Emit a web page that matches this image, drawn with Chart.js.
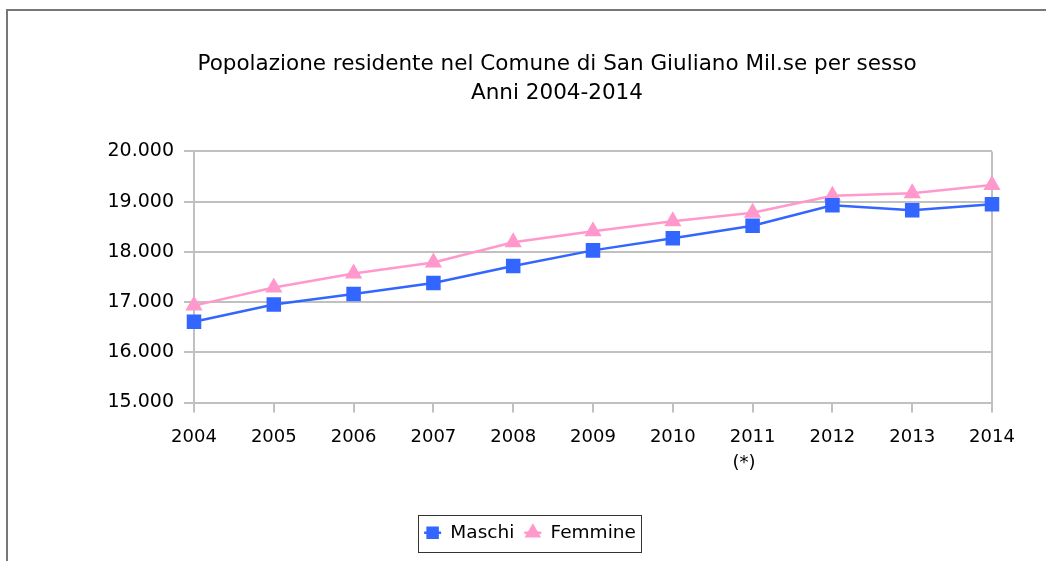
<!DOCTYPE html>
<html>
<head>
<meta charset="utf-8">
<script src="https://cdn.jsdelivr.net/npm/chart.js@4"></script>
<style>
  body { margin: 0; background: #fff; }
  canvas { display: block; }
</style>
</head>
<body>
<canvas id="myChart" width="1046" height="561"></canvas>
<script>
"use strict";

/* dati */
const anni = ['2004', '2005', '2006', '2007', '2008', '2009', '2010', ['2011', '(*)   '], '2012', '2013', '2014'];
const maschi = [16610, 16950, 17160, 17380, 17720, 18030, 18270, 18520, 18930, 18830, 18950];
const femmine = [16930, 17290, 17570, 17790, 18190, 18410, 18610, 18780, 19120, 19170, 19330];
const titolo = ['Popolazione residente nel Comune di San Giuliano Mil.se per sesso', 'Anni 2004-2014'];

const font = 'DejaVu Sans';
const grigio = '#c0c0c0';

/* formato italiano con punto per le migliaia */
function migliaia(v) {
    return String(v).replace(/\B(?=(\d{3})+(?!\d))/g, '.');
}

/* cornice esterna, titolo spostato e riquadro della legenda */
const cornice = {
    id: 'cornice',
    afterLayout(chart) {
        /* il titolo nell'originale e' centrato un po' piu' a destra */
        chart.titleBlock.left += 27;
        chart.titleBlock.right += 27;
    },
    beforeDraw(chart) {
        const c = chart.ctx;
        c.save();
        c.fillStyle = '#fff';
        c.fillRect(0, 0, chart.width, chart.height);
        c.fillStyle = '#777';
        c.fillRect(6, 9, chart.width - 6, 2);
        c.fillRect(6, 9, 2, chart.height - 9);
        c.restore();
    },
    afterDraw(chart) {
        const c = chart.ctx;
        const boxes = chart.legend.legendHitBoxes;
        if (!boxes || !boxes.length) return;
        c.save();
        /* trattino di linea dietro il simbolo */
        boxes.forEach((b, i) => {
            const ds = chart.data.datasets[i];
            const cy = b.top + b.height / 2;
            c.strokeStyle = ds.borderColor;
            c.lineWidth = 2.5;
            c.beginPath();
            c.moveTo(b.left, cy);
            c.lineTo(b.left + 17, cy);
            c.stroke();
        });
        const left = boxes[0].left - 6;
        const last = boxes[boxes.length - 1];
        const right = last.left + last.width + 5;
        const top = boxes[0].top - 9;
        const h = boxes[0].height + 18;
        c.strokeStyle = '#333';
        c.lineWidth = 1;
        c.strokeRect(Math.round(left) + 0.5, Math.round(top) + 0.5, Math.round(right - left), Math.round(h));
        c.restore();
    }
};

const ctx = document.getElementById('myChart');

new Chart(ctx, {
    type: 'line',
    data: {
        labels: anni,
        datasets: [{
            label: 'Maschi',
            data: maschi,
            borderColor: '#3366ff',
            backgroundColor: '#3366ff',
            borderWidth: 2.5,
            pointStyle: 'rect',
            pointRadius: 8.5,
            pointHoverRadius: 8.5,
            tension: 0
        }, {
            label: 'Femmine',
            data: femmine,
            borderColor: '#ff99cc',
            backgroundColor: '#ff99cc',
            borderWidth: 2.5,
            pointStyle: 'triangle',
            pointRadius: 7.5,
            pointHoverRadius: 7.5,
            tension: 0
        }]
    },
    options: {
        responsive: false,
        animation: false,
        devicePixelRatio: 1,
        layout: {
            padding: { left: 14, right: 0, top: 0, bottom: 9 }
        },
        plugins: {
            title: {
                display: true,
                text: titolo,
                color: '#000',
                font: { family: font, size: 21.5, weight: 'normal', lineHeight: 1.36 },
                padding: { top: 50, bottom: 43 }
            },
            legend: {
                position: 'bottom',
                labels: {
                    usePointStyle: true,
                    boxWidth: 17,
                    boxHeight: 10,
                    padding: 10,
                    color: '#000',
                    font: { family: font, size: 18.5 }
                }
            },
            tooltip: { enabled: false }
        },
        scales: {
            x: {
                offset: false,
                afterFit(scale) { scale.height = 111; },
                grid: {
                    color: c => (c.index === anni.length - 1 ? grigio : 'rgba(0,0,0,0)'),
                    tickColor: grigio,
                    tickLength: 10,
                    lineWidth: 2
                },
                border: { color: grigio, width: 2 },
                ticks: {
                    color: '#000',
                    padding: 12,
                    maxRotation: 0,
                    autoSkip: false,
                    font: { family: font, size: 18, lineHeight: 1.45 }
                }
            },
            y: {
                min: 15000,
                max: 20000,
                afterFit(scale) { scale.width = 180; },
                grid: {
                    color: grigio,
                    tickLength: 10,
                    lineWidth: 2
                },
                border: { color: grigio, width: 2 },
                ticks: {
                    stepSize: 1000,
                    color: '#000',
                    padding: 10,
                    font: { family: font, size: 19 },
                    callback: v => migliaia(v)
                }
            },
            /* asse vuoto a destra solo per lasciare il margine */
            y2: {
                position: 'right',
                afterFit(scale) { scale.width = 54; },
                grid: { display: false },
                border: { display: false },
                ticks: { display: false }
            }
        }
    },
    plugins: [cornice]
});
</script>
</body>
</html>
